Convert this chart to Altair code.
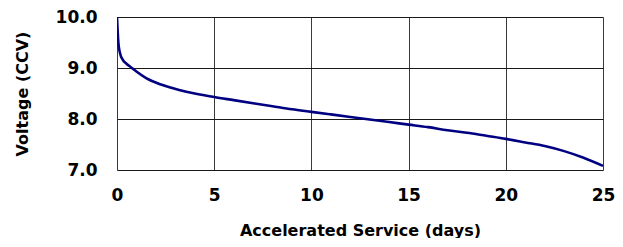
import altair as alt
import pandas as pd

days = [0, 0.03, 0.07, 0.15, 0.3, 0.5, 0.7, 1.0, 1.5, 2.3, 3.2, 4.0, 5, 6, 7, 8,
        9, 10, 11, 12, 13, 14, 15, 16, 17, 18, 19, 20, 21, 22, 23, 24, 25]
volts = [10.0, 9.75, 9.5, 9.3, 9.16, 9.08, 9.02, 8.93, 8.8, 8.67, 8.57, 8.5,
         8.43, 8.37, 8.31, 8.25, 8.19, 8.14, 8.09, 8.04, 7.99, 7.94, 7.89, 7.84,
         7.78, 7.73, 7.67, 7.61, 7.54, 7.47, 7.37, 7.24, 7.08]
x_ticks = [0, 5, 10, 15, 20, 25]
y_ticks = [7.0, 8.0, 9.0, 10.0]

df = pd.DataFrame({"days": days, "volts": volts})
FONT = "DejaVu Sans"
W, H = 486, 153

chart = alt.Chart(df).mark_line(
    color="#000080", strokeWidth=2.6, interpolate="monotone", clip=True
).encode(
    x=alt.X("days:Q", scale=alt.Scale(domain=[0, 25], nice=False),
            axis=alt.Axis(values=x_ticks, title="Accelerated Service (days)",
                          ticks=False, domain=False, labelPadding=17,
                          labelFontSize=17, labelFont=FONT, labelFontWeight="bold",
                          labelColor="black", labelFlush=False,
                          gridColor="#3a3a3a", gridOpacity=1,
                          titleFont=FONT, titleFontSize=16, titleFontWeight="bold",
                          titleColor="black", titleY=60, titleBaseline="middle")),
    y=alt.Y("volts:Q", scale=alt.Scale(domain=[7, 10], nice=False, zero=False),
            axis=alt.Axis(values=y_ticks, format=".1f", title="Voltage (CCV)",
                          ticks=False, domain=False, labelPadding=20,
                          labelFontSize=17, labelFont=FONT, labelFontWeight="bold",
                          labelColor="black", labelBaseline="middle", labelFlush=False,
                          gridColor="#1a1a1a", gridOpacity=1,
                          titleFont=FONT, titleFontSize=16, titleFontWeight="bold",
                          titleColor="black", titleX=-95, titleY=H / 2,
                          titleAngle=270, titleAlign="center", titleBaseline="middle")),
).properties(
    width=W, height=H,
    autosize=alt.AutoSizeParams(type="none"),
    padding={"left": 109, "top": 9, "right": 12, "bottom": 68},
).configure_view(stroke="black", strokeWidth=1.2).configure(background="white")

chart.save("out.html", embed_options={"renderer": "svg", "actions": False})
